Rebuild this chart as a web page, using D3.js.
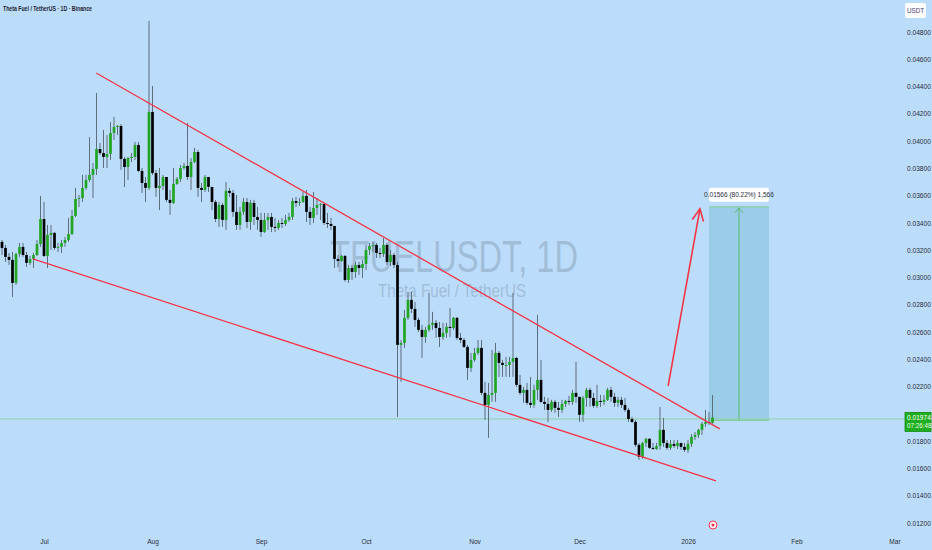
<!DOCTYPE html>
<html><head><meta charset="utf-8">
<script src="https://cdn.jsdelivr.net/npm/d3@7"></script>
<style>
html,body{margin:0;padding:0;background:#bcdcfb;}
svg{display:block;}
text{font-family:"Liberation Sans Narrow","Liberation Sans",Arial,sans-serif;}
</style></head>
<body><svg id="c" width="932" height="550"></svg>
<script>
const startDate = "2025-06-19";
const firstOpen = 0.03261;
const closes = [
0.03217,0.03151,0.03129,0.02960,0.03173,0.03224,0.03165,0.03107,0.03136,0.03165,
0.03246,0.03429,0.03158,0.03312,0.03327,0.03217,0.03224,0.03253,0.03275,0.03319,
0.03451,0.03576,0.03583,0.03657,0.03715,0.03752,0.03796,0.03942,0.03913,0.03884,
0.03906,0.04060,0.04104,0.04111,0.03869,0.03810,0.03876,0.03884,0.03972,0.03781,
0.03693,0.03657,0.04214,0.03766,0.03657,0.03671,0.03737,0.03569,0.03547,0.03686,
0.03723,0.03803,0.03818,0.03737,0.03847,0.03920,0.03657,0.03642,0.03737,0.03664,
0.03554,0.03429,0.03532,0.03422,0.03635,0.03620,0.03481,0.03385,0.03481,0.03554,
0.03407,0.03547,0.03444,0.03422,0.03334,0.03422,0.03444,0.03371,0.03363,0.03400,
0.03393,0.03422,0.03444,0.03561,0.03547,0.03554,0.03598,0.03481,0.03437,0.03510,
0.03532,0.03539,0.03400,0.03393,0.03378,0.03136,0.03121,0.03158,0.02982,0.03070,
0.03041,0.03092,0.03070,0.03099,0.03202,0.03231,0.03239,0.03180,0.03173,0.03239,
0.03114,0.03165,0.03092,0.02506,0.02520,0.02704,0.02836,0.02770,0.02689,0.02616,
0.02564,0.02616,0.02652,0.02667,0.02630,0.02564,0.02594,0.02638,0.02630,0.02704,
0.02557,0.02542,0.02491,0.02337,0.02396,0.02447,0.02484,0.02154,0.02066,0.02139,
0.02154,0.02447,0.02374,0.02359,0.02359,0.02381,0.02410,0.02213,0.02154,0.02176,
0.02081,0.02066,0.02176,0.02249,0.02088,0.02073,0.02029,0.02088,0.02044,0.02029,
0.02073,0.02095,0.02088,0.02154,0.02125,0.01993,0.02117,0.02176,0.02117,0.02059,
0.02095,0.02088,0.02103,0.02176,0.02125,0.02081,0.02103,0.02066,0.02029,0.01963,
0.01941,0.01773,0.01685,0.01787,0.01817,0.01751,0.01743,0.01765,0.01883,0.01787,
0.01751,0.01780,0.01765,0.01787,0.01758,0.01736,0.01780,0.01831,0.01846,0.01883,
0.01927,0.01941,0.01934,0.01974];
const highs = [
0.03275,0.03239,0.03180,0.03187,0.03180,0.03253,0.03253,0.03187,0.03158,0.03180,
0.03275,0.03598,0.03554,0.03385,0.03385,0.03334,0.03253,0.03275,0.03297,0.03437,
0.03495,0.03657,0.03605,0.03752,0.03752,0.04030,0.03840,0.04353,0.03986,0.04082,
0.04045,0.04140,0.04177,0.04118,0.04125,0.03884,0.03884,0.03913,0.03994,0.03994,
0.03803,0.03737,0.04881,0.04404,0.03789,0.03803,0.03752,0.03737,0.03642,0.03803,
0.03737,0.03825,0.03840,0.04133,0.03876,0.03950,0.03935,0.03693,0.03752,0.03737,
0.03664,0.03569,0.03554,0.03547,0.03700,0.03657,0.03642,0.03605,0.03517,0.03583,
0.03583,0.03569,0.03569,0.03517,0.03473,0.03473,0.03473,0.03473,0.03437,0.03422,
0.03437,0.03459,0.03473,0.03583,0.03591,0.03583,0.03627,0.03642,0.03517,0.03627,
0.03583,0.03547,0.03547,0.03473,0.03437,0.03378,0.03165,0.03165,0.03165,0.03092,
0.03092,0.03114,0.03114,0.03129,0.03239,0.03253,0.03261,0.03253,0.03217,0.03290,
0.03253,0.03202,0.03180,0.03114,0.02542,0.02762,0.02894,0.02894,0.02821,0.02704,
0.02652,0.02638,0.02887,0.02748,0.02689,0.02674,0.02667,0.02667,0.02777,0.02711,
0.02711,0.02594,0.02557,0.02506,0.02447,0.02484,0.02542,0.02542,0.02235,0.02227,
0.02469,0.02520,0.02462,0.02396,0.02418,0.02418,0.02887,0.02418,0.02286,0.02198,
0.02227,0.02271,0.02213,0.02726,0.02396,0.02125,0.02117,0.02103,0.02103,0.02088,
0.02103,0.02103,0.02132,0.02176,0.02381,0.02125,0.02132,0.02191,0.02191,0.02154,
0.02213,0.02139,0.02139,0.02191,0.02198,0.02154,0.02125,0.02125,0.02117,0.02044,
0.01978,0.01956,0.01787,0.01795,0.01824,0.01824,0.01787,0.01787,0.02051,0.01971,
0.01809,0.01809,0.01809,0.01809,0.01787,0.01787,0.01809,0.01853,0.01868,0.01890,
0.01941,0.02029,0.02015,0.02139];
const lows = [
0.03165,0.03114,0.03092,0.02858,0.02946,0.03151,0.03151,0.03077,0.03092,0.03070,
0.03158,0.03224,0.03151,0.03070,0.03202,0.03202,0.03187,0.03180,0.03224,0.03261,
0.03312,0.03444,0.03517,0.03554,0.03642,0.03700,0.03583,0.03752,0.03898,0.03803,
0.03803,0.03862,0.04008,0.04045,0.03789,0.03664,0.03715,0.03847,0.03862,0.03774,
0.03620,0.03554,0.03642,0.03752,0.03591,0.03495,0.03642,0.03554,0.03459,0.03539,
0.03679,0.03700,0.03789,0.03715,0.03642,0.03840,0.03591,0.03554,0.03627,0.03627,
0.03495,0.03407,0.03371,0.03371,0.03349,0.03591,0.03444,0.03349,0.03349,0.03459,
0.03363,0.03349,0.03385,0.03349,0.03297,0.03327,0.03349,0.03334,0.03334,0.03349,
0.03363,0.03378,0.03407,0.03422,0.03517,0.03525,0.03547,0.03407,0.03385,0.03400,
0.03459,0.03422,0.03385,0.03363,0.03349,0.03070,0.03077,0.03114,0.02968,0.02960,
0.02982,0.02997,0.03019,0.02997,0.03055,0.03165,0.03187,0.03143,0.03143,0.03151,
0.03092,0.03085,0.03070,0.01978,0.02235,0.02484,0.02689,0.02740,0.02638,0.02601,
0.02410,0.02520,0.02601,0.02616,0.02557,0.02491,0.02542,0.02557,0.02564,0.02616,
0.02542,0.02520,0.02484,0.02249,0.02308,0.02381,0.02432,0.02139,0.01956,0.01824,
0.02088,0.02088,0.02271,0.02271,0.02271,0.02271,0.02271,0.02198,0.02139,0.02081,
0.02066,0.02044,0.02044,0.02103,0.02081,0.02029,0.01941,0.02015,0.02007,0.01978,
0.02007,0.02051,0.02066,0.02066,0.02081,0.01941,0.01941,0.02051,0.02051,0.02044,
0.02044,0.02051,0.02066,0.02095,0.02088,0.02051,0.02051,0.02044,0.02015,0.01941,
0.01934,0.01758,0.01663,0.01670,0.01758,0.01743,0.01736,0.01736,0.01736,0.01758,
0.01736,0.01736,0.01751,0.01743,0.01736,0.01721,0.01714,0.01758,0.01809,0.01824,
0.01846,0.01905,0.01919,0.01927];

// 0.02000 is hidden behind the last-price label, as in the reference
const yTicks = [0.048,0.046,0.044,0.042,0.040,0.038,0.036,0.034,0.032,0.030,0.028,0.026,0.024,0.022,0.018,0.016,0.014,0.012];
const xTickDates = ["2025-07-01","2025-08-01","2025-09-01","2025-10-01","2025-11-01","2025-12-01","2026-01-01","2026-02-01","2026-03-01"];
const xTickLabels = ["Jul","Aug","Sep","Oct","Nov","Dec","2026","Feb","Mar"];

// drawings: [date, price]
const upperLine = [["2025-07-15T22:00",0.04499],["2026-01-10T02:00",0.01890]];
const lowerLine = [["2025-06-27T20:00",0.03136],["2026-01-09T00:00",0.01509]];
const arrowLine = [["2025-12-26T08:00",0.02205],["2026-01-04T10:00",0.03503]];
const posStart = "2026-01-07", posEnd = "2026-01-24T03:00";
const entryPrice = 0.01952, targetPrice = 0.03518;
const posLabel = "0.01566 (80.22%) 1,566";
const lastPrice = 0.01974, lastLabel = "0.01974", countdown = "07:26:48";

const P = s => new Date(s.length===10 ? s+"T00:00:00Z" : s+":00Z");
const data = closes.map((c,i)=>{
  const d = P(startDate); d.setUTCDate(d.getUTCDate()+i);
  return {date:d, open: i===0?firstOpen:closes[i-1], close:c, high:highs[i], low:lows[i]};
});

const svg = d3.select("#c");
const x = d3.scaleUtc().domain([P("2025-06-19"), P("2026-03-01")]).range([2, 894.5]);
const y = d3.scaleLinear().domain([0.012, 0.048]).range([523, 32]);

svg.append("rect").attr("width",932).attr("height",550).attr("fill","#bcdcfb");

// watermark
svg.append("text").attr("x",454).attr("y",272).attr("text-anchor","middle")
  .attr("font-size",44).attr("fill","#8ea8bf").attr("fill-opacity",0.6)
  .attr("textLength",248).attr("lengthAdjust","spacingAndGlyphs").text("TFUELUSDT, 1D");
svg.append("text").attr("x",452).attr("y",297).attr("text-anchor","middle")
  .attr("font-size",19).attr("fill","#8ea8bf").attr("fill-opacity",0.6)
  .attr("textLength",148).attr("lengthAdjust","spacingAndGlyphs").text("Theta Fuel / TetherUS");

// position box
const pb = svg.append("g");
pb.append("rect").attr("x",x(P(posStart))).attr("y",y(targetPrice))
  .attr("width",x(P(posEnd))-x(P(posStart))).attr("height",y(entryPrice)-y(targetPrice))
  .attr("fill","#9ccde8");
pb.append("line").attr("x1",x(P(posStart))).attr("x2",x(P(posEnd))).attr("y1",y(targetPrice)).attr("y2",y(targetPrice))
  .attr("stroke","#80cf92").attr("stroke-width",1);
pb.append("line").attr("x1",x(P(posStart))).attr("x2",x(P(posEnd))).attr("y1",y(entryPrice)).attr("y2",y(entryPrice))
  .attr("stroke","#80cf92").attr("stroke-width",1);
const mx = (x(P(posStart))+x(P(posEnd)))/2;
pb.append("line").attr("x1",mx).attr("x2",mx).attr("y1",y(entryPrice)).attr("y2",y(targetPrice)+1)
  .attr("stroke","#5fb872").attr("stroke-width",1);
pb.append("path").attr("d",`M${mx-4},${y(targetPrice)+6}L${mx},${y(targetPrice)+1}L${mx+4},${y(targetPrice)+6}`)
  .attr("fill","none").attr("stroke","#5fb872").attr("stroke-width",1);

// last price line
svg.append("line").attr("x1",0).attr("x2",905).attr("y1",y(lastPrice)+1.5).attr("y2",y(lastPrice)+1.5)
  .attr("stroke","#8fd3a0").attr("stroke-width",1);

// candles
const cw = 2.7;
const cg = svg.append("g");
cg.selectAll("line.w").data(data).join("line")
  .attr("x1",d=>x(d.date)).attr("x2",d=>x(d.date))
  .attr("y1",d=>y(d.high)).attr("y2",d=>y(d.low))
  .attr("stroke","#5d6e7d").attr("stroke-width",1);
cg.selectAll("rect.b").data(data).join("rect")
  .attr("x",d=>x(d.date)-cw/2).attr("width",cw)
  .attr("y",d=>y(Math.max(d.open,d.close)))
  .attr("height",d=>Math.max(1,Math.abs(y(d.open)-y(d.close))))
  .attr("fill",d=>d.close>=d.open?"#22a522":"#000000");

// trend lines
const line = d3.line().x(d=>x(P(d[0]))).y(d=>y(d[1]));
svg.append("path").attr("d",line(upperLine)).attr("stroke","#f23645").attr("stroke-width",1.3).attr("fill","none");
svg.append("path").attr("d",line(lowerLine)).attr("stroke","#f23645").attr("stroke-width",1.3).attr("fill","none");
svg.append("path").attr("d",line(arrowLine)).attr("stroke","#f23645").attr("stroke-width",1.6).attr("fill","none");
{
  const x1=x(P(arrowLine[0][0])), y1=y(arrowLine[0][1]), x2=x(P(arrowLine[1][0])), y2=y(arrowLine[1][1]);
  const a=Math.atan2(y2-y1,x2-x1), L=13, s=0.45;
  const p1=[x2-L*Math.cos(a-s), y2-L*Math.sin(a-s)], p2=[x2-L*Math.cos(a+s), y2-L*Math.sin(a+s)];
  svg.append("path").attr("d",`M${p1}L${x2},${y2}L${p2}`).attr("stroke","#f23645").attr("stroke-width",1.6).attr("fill","none");
}

// position label
pb.append("rect").attr("x",x(P(posStart))).attr("y",y(targetPrice)-19).attr("width",x(P(posEnd))-x(P(posStart))).attr("height",14)
  .attr("rx",2).attr("fill","#ffffff");
pb.append("text").attr("x",mx).attr("y",y(targetPrice)-9.5).attr("text-anchor","middle").attr("font-size",6.5)
  .attr("fill","#2a2e39").text(posLabel);

// y axis
const ya = svg.append("g").attr("transform","translate(905,0)")
  .call(d3.axisRight(y).tickValues(yTicks).tickFormat(d3.format(".5f")).tickSize(0).tickPadding(2));
ya.select(".domain").remove();
ya.selectAll("text").attr("font-size",6.6).attr("fill","#2a2e39").attr("font-family",'"Liberation Sans Narrow","Liberation Sans",Arial,sans-serif');

// x axis
const xa = svg.append("g").attr("transform","translate(0,537)")
  .call(d3.axisBottom(x).tickValues(xTickDates.map(P)).tickFormat((d,i)=>xTickLabels[i]).tickSize(0).tickPadding(2));
xa.select(".domain").remove();
xa.selectAll("text").attr("font-size",6.6).attr("fill","#2a2e39").attr("font-family",'"Liberation Sans Narrow","Liberation Sans",Arial,sans-serif');

// last price label
const ly = y(lastPrice);
svg.append("rect").attr("x",905).attr("y",ly-5).attr("width",26).attr("height",19).attr("fill","#1fae1f").attr("stroke","#138a13").attr("stroke-width",0.8);
svg.append("text").attr("x",907).attr("y",ly+2.5).attr("font-size",6.6).attr("fill","#fff").text(lastLabel);
svg.append("text").attr("x",907).attr("y",ly+10.5).attr("font-size",6.3).attr("fill","#e8ffe8").text(countdown);

// USDT box
svg.append("rect").attr("x",905).attr("y",3).attr("width",21).attr("height",15).attr("rx",2).attr("fill","#ffffff");
svg.append("text").attr("x",915.5).attr("y",13).attr("text-anchor","middle").attr("font-size",6.3).attr("fill","#4b3f72").text("USDT");

// title
svg.append("text").attr("x",3).attr("y",11).attr("font-size",6.8).attr("font-weight","bold").attr("fill","#1e2230")
  .attr("textLength",89).attr("lengthAdjust","spacingAndGlyphs").text("Theta Fuel / TetherUS · 1D · Binance");

// event icon
svg.append("circle").attr("cx",713).attr("cy",525).attr("r",4).attr("fill","#fff").attr("stroke","#f23645").attr("stroke-width",1);
svg.append("circle").attr("cx",713).attr("cy",525).attr("r",1.5).attr("fill","#f23645");
</script></body></html>
